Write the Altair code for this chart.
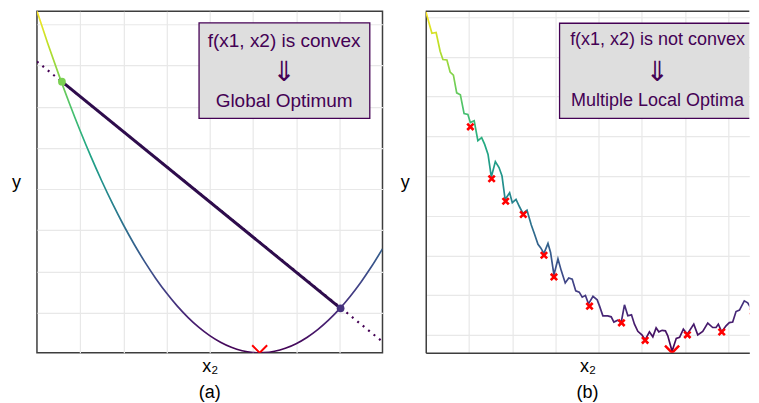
import altair as alt
import pandas as pd

# ---------------- panel (a): convex function ----------------
a_x = [0, 0.25, 0.5, 0.75, 1.0, 1.25, 1.5, 1.75, 2.0, 2.25, 2.5, 2.75, 3.0, 3.25,
       3.5, 3.75, 4.0, 4.25, 4.5, 4.75, 5.0, 5.156, 5.25, 5.5, 5.75, 6.0, 6.25,
       6.5, 6.75, 7.0, 7.25, 7.5, 7.75, 8.0]
a_y = [8.294, 7.510, 6.764, 6.057, 5.389, 4.760, 4.170, 3.620, 3.108, 2.635,
       2.201, 1.806, 1.450, 1.133, 0.856, 0.617, 0.417, 0.256, 0.134, 0.051,
       0.008, 0.0, 0.003, 0.037, 0.110, 0.222, 0.373, 0.564, 0.793, 1.061,
       1.368, 1.714, 2.099, 2.524]
chord_x = [0.578, 7.03]
chord_y = [6.58, 1.08]
chord_col = ["#7ad151", "#46327e"]
ext_x = [0, 8]
ext_y = [7.07, 0.27]
a_min_x = [5.156]
a_min_y = [0.0]
a_box = {"x": [3.753], "x2": [7.706], "y": [5.690], "y2": [8.007]}
a_lines = ["f(x1, x2) is convex", "Global Optimum"]
a_lines_y = [7.564, 6.109]
a_text_x = 5.723
a_arrow_y = 6.795

# ---------------- panel (b): non-convex function ----------------
b_x = [0.000, 0.143, 0.240, 0.333, 0.397, 0.490, 0.564, 0.640, 0.716, 0.801,
       0.887, 0.975, 1.032, 1.120, 1.206, 1.293, 1.363, 1.441, 1.517, 1.610,
       1.695, 1.764, 1.836, 1.940, 2.002, 2.088, 2.171, 2.249, 2.342, 2.441,
       2.517, 2.596, 2.656, 2.734, 2.827, 2.887, 2.965, 3.058, 3.134, 3.226,
       3.307, 3.388, 3.469, 3.550, 3.619, 3.693, 3.764, 3.868, 3.965, 4.018,
       4.097, 4.208, 4.289, 4.351, 4.439, 4.520, 4.596, 4.674, 4.758, 4.827,
       4.905, 4.998, 5.074, 5.173, 5.252, 5.328, 5.390, 5.467, 5.543, 5.598,
       5.697, 5.794, 5.871, 5.958, 6.048, 6.199, 6.291, 6.406, 6.522, 6.637,
       6.714, 6.767, 6.845, 6.945, 7.021, 7.099, 7.176, 7.256, 7.367, 7.446,
       7.561, 7.661, 7.730, 7.845, 7.984]
b_y = [8.593, 8.040, 8.058, 7.588, 7.379, 7.367, 7.065, 6.985, 6.540, 6.490,
       6.018, 5.997, 5.791, 5.837, 5.339, 5.415, 5.244, 4.992, 4.422, 4.812,
       4.661, 4.447, 3.857, 4.028, 3.776, 3.862, 3.668, 3.505, 3.585, 3.216,
       2.982, 2.731, 2.646, 2.500, 2.751, 2.525, 1.960, 2.362, 2.068, 1.759,
       1.884, 1.852, 1.558, 1.525, 1.399, 1.445, 1.231, 1.420, 1.332, 1.181,
       0.930, 0.930, 0.905, 0.774, 0.822, 0.761, 1.206, 0.930, 0.955, 0.721,
       0.540, 0.452, 0.327, 0.528, 0.402, 0.628, 0.528, 0.565, 0.553, 0.427,
       0.038, 0.364, 0.389, 0.595, 0.465, 0.721, 0.452, 0.540, 0.746, 0.636,
       0.636, 0.721, 0.528, 0.678, 0.761, 0.774, 1.038, 1.073, 1.307, 1.256,
       1.055, 1.244, 1.264, 1.332, 1.407]
b_loc_x = [1.032, 1.524, 1.848, 2.256, 2.734, 2.965, 3.788, 4.527, 5.074, 6.051, 6.845, 7.568]
b_loc_y = [5.686, 4.379, 3.812, 3.480, 2.455, 1.910, 1.173, 0.754, 0.314, 0.452, 0.523, 1.043]
b_min_x = [5.697]
b_min_y = [0.0]
b_box = {"x": [3.095], "x2": [7.76], "y": [5.897], "y2": [8.291]}
b_lines = ["f(x1, x2) is not convex", "Multiple Local Optima"]
b_lines_y = [7.864, 6.332]
b_text_x = 5.36
b_arrow_y = 7.043

# ---------------- axis / styling ----------------
x_grid = [1, 2, 3, 4, 5, 6, 7]
a_y_grid = [0.97, 1.97, 2.97, 3.97, 4.97, 5.97, 6.97, 7.97]
b_y_grid = [0.445, 1.445, 2.445, 3.445, 4.445, 5.445, 6.445, 7.445, 8.445]
a_xdom = [0, 8]
b_xdom = [0, 7.483]          # panel (b) is cut off at the right edge of the picture
a_ydom = [0, 8.29]
b_ydom = [0, 8.593]

VIRIDIS = ["#fde725", "#bddf26", "#7ad151", "#44bf70", "#22a884", "#21918c",
           "#2a788e", "#355f8d", "#414487", "#482475", "#440154"]
grad = alt.Gradient(
    gradient="linear",
    stops=[alt.GradientStop(color=c, offset=i / 10) for i, c in enumerate(VIRIDIS)],
    x1=0, x2=0, y1=0, y2=1,
)
FONT = "Liberation Sans"
PURPLE = "#440154"
BORDER = "#3d3d3d"
XSHAPE = "M-1,-1L1,1M1,-1L-1,1"
W_A, W_B, H = 346, 324, 342


def panel(curve_df, xdom, ydom, ygrid, extra_layers, box, lines, lines_y, tx,
          arrow_y, label, interp, width, open_right, text_size):
    dom_kw = dict(domain=True, domainColor=BORDER, domainWidth=1.5) if open_right else dict(domain=False)
    xa = alt.Axis(values=x_grid, labels=False, ticks=False, grid=True,
                  title="x₂", titleFontSize=18, titleFont=FONT, titleFontWeight="normal",
                  titleColor="black", titlePadding=5, **dom_kw)
    ya = alt.Axis(values=ygrid, labels=False, ticks=False, grid=True,
                  title="y", titleAngle=0, titleFontSize=18, titleFont=FONT,
                  titleFontWeight="normal", titleColor="black", titleX=-21, titleY=H / 2,
                  titleAlign="center", titleBaseline="middle", **dom_kw)
    xs = alt.Scale(domain=xdom, nice=False, zero=False)
    ys = alt.Scale(domain=ydom, nice=False, zero=False)

    def X(f):
        return alt.X(f, type="quantitative", scale=xs, axis=xa)

    def Y(f):
        return alt.Y(f, type="quantitative", scale=ys, axis=ya)

    curve = alt.Chart(curve_df).mark_line(
        color=grad, strokeWidth=1.7, clip=True, interpolate=interp
    ).encode(x=X("x"), y=Y("y"), order="order:Q")

    bdf = pd.DataFrame(box)
    rect = alt.Chart(bdf).mark_rect(fill="#dedede", stroke=PURPLE, strokeWidth=1.3,
                                    clip=True).encode(
        x=X("x"), x2="x2", y=Y("y"), y2="y2")
    tdf = pd.DataFrame({"t": lines, "x": [tx] * len(lines), "y": lines_y})
    txt = alt.Chart(tdf).mark_text(font=FONT, fontSize=text_size, color=PURPLE,
                                   baseline="middle", align="center").encode(
        x=X("x"), y=Y("y"), text="t:N")
    adf = pd.DataFrame({"t": ["⇓"], "x": [tx], "y": [arrow_y]})
    arr = alt.Chart(adf).mark_text(font="DejaVu Sans", fontSize=28, color=PURPLE,
                                   baseline="middle", align="center").encode(
        x=X("x"), y=Y("y"), text="t:N")

    layers = [curve] + [f(X, Y) for f in extra_layers] + [rect, txt, arr]
    if open_right:
        top = alt.Chart(bdf).mark_rule(color=BORDER, strokeWidth=1.5).encode(
            x=alt.value(0), x2=alt.value(width), y=alt.value(0))
        layers.append(top)
    props = dict(
        width=width, height=H,
        title=alt.Title(label, orient="bottom", anchor="middle", frame="group",
                        fontSize=18, font=FONT, fontWeight="normal", color="black", offset=8),
    )
    if open_right:
        props["view"] = alt.ViewBackground(strokeOpacity=0)
    return alt.layer(*layers).properties(**props)


# panel (a) extras
def a_ext(X, Y):
    d = pd.DataFrame({"x": ext_x, "y": ext_y})
    return alt.Chart(d).mark_line(color=PURPLE, strokeWidth=2.2, strokeDash=[2, 5], clip=True).encode(
        x=X("x"), y=Y("y"))


def a_chord(X, Y):
    d = pd.DataFrame({"x": chord_x, "y": chord_y})
    return alt.Chart(d).mark_line(color="#2e0c4c", strokeWidth=3).encode(x=X("x"), y=Y("y"))


def a_pts(X, Y):
    d = pd.DataFrame({"x": chord_x, "y": chord_y, "c": chord_col})
    return alt.Chart(d).mark_point(filled=True, size=60, opacity=1).encode(
        x=X("x"), y=Y("y"), color=alt.Color("c:N", scale=None))


def a_min(X, Y):
    d = pd.DataFrame({"x": a_min_x, "y": a_min_y})
    return alt.Chart(d).mark_point(shape=XSHAPE, size=225, color="red", strokeWidth=2,
                                   filled=False, opacity=1, clip=True).encode(x=X("x"), y=Y("y"))


# panel (b) extras
def b_loc(X, Y):
    d = pd.DataFrame({"x": b_loc_x, "y": b_loc_y})
    return alt.Chart(d).mark_point(shape=XSHAPE, size=40, color="red", strokeWidth=2.6,
                                   filled=False, opacity=1, clip=True).encode(x=X("x"), y=Y("y"))


def b_min(X, Y):
    d = pd.DataFrame({"x": b_min_x, "y": b_min_y})
    return alt.Chart(d).mark_point(shape=XSHAPE, size=200, color="red", strokeWidth=2.5,
                                   filled=False, opacity=1, clip=True).encode(x=X("x"), y=Y("y"))


a_df = pd.DataFrame({"x": a_x, "y": a_y, "order": range(len(a_x))})
b_df = pd.DataFrame({"x": b_x, "y": b_y, "order": range(len(b_x))})

left = panel(a_df, a_xdom, a_ydom, a_y_grid, [a_ext, a_chord, a_pts, a_min], a_box,
             a_lines, a_lines_y, a_text_x, a_arrow_y, "(a)", "monotone", W_A, False, 19)
right = panel(b_df, b_xdom, b_ydom, b_y_grid, [b_loc, b_min], b_box,
              b_lines, b_lines_y, b_text_x, b_arrow_y, "(b)", "linear", W_B, True, 18)

chart = alt.hconcat(left, right, spacing=43.3, bounds="flush").properties(
    padding={"left": 2, "top": 2, "right": 0, "bottom": 0},
    background="white",
).configure_view(
    stroke=BORDER, strokeWidth=1.5
).configure_axis(
    gridColor="#e8e8e8", gridWidth=1.2
)

chart.save("out.html", embed_options={"renderer": "svg", "actions": False})
